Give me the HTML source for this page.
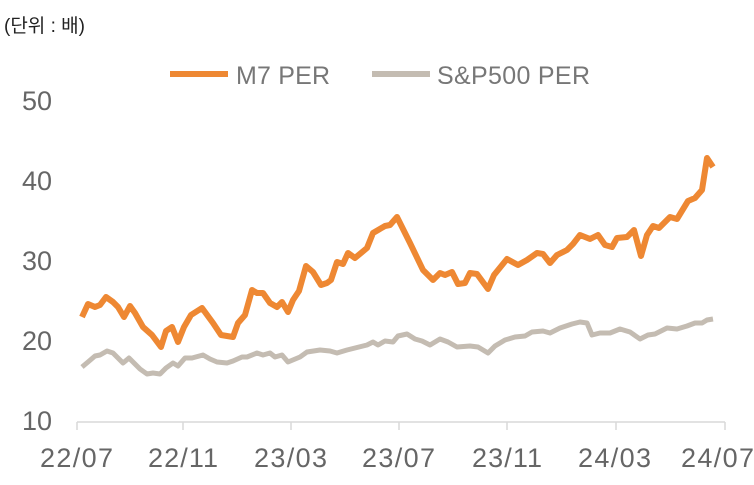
<!DOCTYPE html>
<html><head><meta charset="utf-8"><style>
body{margin:0;background:#fff;width:754px;height:480px;overflow:hidden}
svg text{font-family:"Liberation Sans","Noto Sans CJK KR",sans-serif}
</style></head><body>
<svg width="754" height="480" viewBox="0 0 754 480">
<text x="4" y="32" font-size="19" fill="#222">(단위 : 배)</text>
<line x1="170" y1="74" x2="228" y2="74" stroke="#EE8833" stroke-width="6"/>
<text x="236" y="84" font-size="25" fill="#777" textLength="94">M7 PER</text>
<line x1="372" y1="74" x2="430" y2="74" stroke="#C4BCB2" stroke-width="6"/>
<text x="437" y="84" font-size="25" fill="#777" textLength="153">S&amp;P500 PER</text>
<g font-size="27" fill="#666" text-anchor="end">
<text x="52" y="110">50</text><text x="52" y="190">40</text><text x="52" y="270">30</text><text x="52" y="350">20</text><text x="52" y="430">10</text>
</g>
<line x1="77" y1="422" x2="725" y2="422" stroke="#d9d9d9" stroke-width="1.5"/>
<g stroke="#d9d9d9" stroke-width="1.5">
<line x1="77" y1="422" x2="77" y2="430"/><line x1="183" y1="422" x2="183" y2="430"/><line x1="291" y1="422" x2="291" y2="430"/><line x1="399" y1="422" x2="399" y2="430"/><line x1="507" y1="422" x2="507" y2="430"/><line x1="616" y1="422" x2="616" y2="430"/><line x1="725" y1="422" x2="725" y2="430"/>
</g>
<g font-size="27" fill="#666">
<text x="40" y="467" textLength="73">22/07</text><text x="148" y="467" textLength="70">22/11</text><text x="254" y="467" textLength="73">23/03</text><text x="362" y="467" textLength="73">23/07</text><text x="472" y="467" textLength="70">23/11</text><text x="578" y="467" textLength="73">24/03</text><text x="681" y="467" textLength="73">24/07</text>
</g>
<polyline fill="none" stroke="#C4BCB2" stroke-width="5" stroke-linejoin="round" points="82,367 88,362 95,356 100,355 107,351 113,353 123,363 129,358 140,369 147,374 153,373 160,374 166,368 173,363 178,366 185,358 192,358 203,355 210,359 217,362 227,363 233,361 242,357 247,357 257,353 263,355 270,353 275,357 282,355 288,362 300,357 307,352 320,350 330,351 337,353 347,350 355,348 367,345 373,342 378,345 385,341 393,342 398,336 407,334 415,339 422,341 430,345 440,339 448,342 457,347 470,346 478,347 488,353 495,346 505,340 515,337 525,336 532,332 543,331 550,333 560,328 572,324 580,322 587,323 592,335 600,333 610,333 620,329 630,332 640,339 648,335 655,334 667,328 677,329 687,326 695,323 702,323 707,320 713,319"/>
<polyline fill="none" stroke="#EE8833" stroke-width="6" stroke-linejoin="round" points="82,317 88,304 95,307 100,305 106,297 113,302 118,307 124,317 130,306 135,313 143,327 152,335 161,347 166,331 172,327 178,342 184,327 191,315 202,308 213,323 221,335 233,337 238,323 245,315 252,290 257,293 263,293 270,303 277,307 282,302 288,312 293,300 299,291 306,266 313,272 321,285 327,283 331,280 337,262 343,264 348,253 355,258 367,248 373,233 385,226 390,225 397,217 410,243 423,270 433,280 440,273 445,275 452,272 458,284 465,283 470,273 477,274 488,289 494,275 507,259 518,265 527,260 537,253 543,254 550,263 557,255 567,250 573,244 580,235 590,239 598,235 605,245 612,247 617,238 627,237 634,230 641,256 647,235 653,226 659,228 670,217 677,219 688,201 695,198 702,190 707,158 713,167"/>
</svg>
</body></html>
